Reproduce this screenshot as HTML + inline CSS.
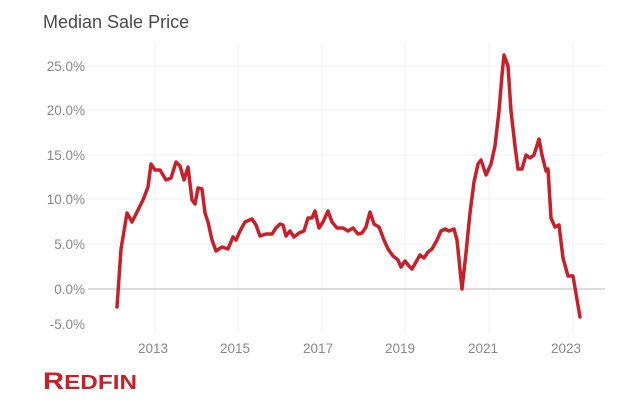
<!DOCTYPE html>
<html><head><meta charset="utf-8"><style>
html,body{margin:0;padding:0;background:#fff;}
body{width:637px;height:412px;overflow:hidden;}
</style></head><body>
<svg width="637" height="412" xmlns="http://www.w3.org/2000/svg" font-family="Liberation Sans, sans-serif">
<text x="43" y="28" font-size="18" fill="#4a4a4a">Median Sale Price</text>
<g stroke="#f0f0f0" stroke-width="1">
<line x1="155" y1="42" x2="155" y2="334"/><line x1="238" y1="42" x2="238" y2="334"/>
<line x1="322" y1="42" x2="322" y2="334"/><line x1="405" y1="42" x2="405" y2="334"/>
<line x1="489" y1="42" x2="489" y2="334"/><line x1="573" y1="42" x2="573" y2="334"/>
<line x1="88" y1="66" x2="605" y2="66"/><line x1="88" y1="110" x2="605" y2="110"/>
<line x1="88" y1="155" x2="605" y2="155"/><line x1="88" y1="199" x2="605" y2="199"/>
<line x1="88" y1="244" x2="605" y2="244"/>
</g>
<line x1="88" y1="289" x2="605" y2="289" stroke="#d0d0d0" stroke-width="1.5"/>
<g font-size="13.5" fill="#888" text-anchor="end">
<text x="85" y="71">25.0%</text><text x="85" y="115">20.0%</text><text x="85" y="160">15.0%</text>
<text x="85" y="204">10.0%</text><text x="85" y="249">5.0%</text><text x="85" y="294">0.0%</text>
<text x="85" y="329">-5.0%</text>
</g>
<g font-size="13.5" fill="#888" text-anchor="middle">
<text x="153" y="353">2013</text><text x="235" y="353">2015</text><text x="318" y="353">2017</text>
<text x="400" y="353">2019</text><text x="483" y="353">2021</text><text x="566" y="353">2023</text>
</g>
<polyline fill="none" stroke="#c8202a" stroke-width="3.5" stroke-linejoin="round" stroke-linecap="round" points="117,307 121,249 127,213 132,222 137,212 143,200 148,187 151,164 155,170 160,170 166,180 171,178 176,162 180,166 184,180 188,167 192,200 195,204 198,188 202,189 205,213 208,222 212,240 216,251 222,247 228,249 233,237 236,240 240,231 245,222 252,219 256,225 260,236 266,234 272,234 276,228 280,224 283,225 286,236 290,231 294,237 299,233 304,231 308,218 312,218 315,211 319,228 323,222 328,211 332,222 337,228 343,228 348,231 353,228 358,234 362,233 366,227 370,212 374,224 379,227 384,240 388,249 393,256 398,260 401,267 405,261 409,266 412,269 416,262 420,255 424,258 428,252 432,249 437,240 441,231 445,229 449,231 454,229 457,240 462,289 466,253 470,213 474,182 478,164 481,160 486,175 491,164 495,146 499,111 502,75 504,55 508,66 511,111 515,146 518,169 522,169 526,155 530,158 534,155 539,139 542,155 546,171 548,169 551,218 555,227 559,225 563,258 568,276 573,276 580,317"/>
<text x="43" y="389" font-family="Liberation Sans Narrow, Liberation Sans, sans-serif" font-weight="bold" fill="#c8202a" textLength="94" lengthAdjust="spacingAndGlyphs"><tspan font-size="24">R</tspan><tspan font-size="20">EDFIN</tspan></text>
</svg>
</body></html>
